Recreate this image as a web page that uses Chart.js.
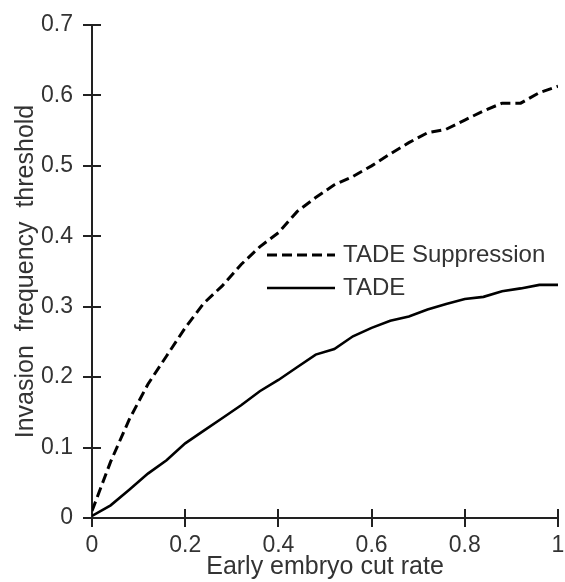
<!DOCTYPE html>
<html>
<head>
<meta charset="utf-8">
<script src="https://cdn.jsdelivr.net/npm/chart.js@4.4.1/dist/chart.umd.min.js"></script>
<style>
  html, body { margin: 0; padding: 0; background: #fff; }
  #wrap { width: 565px; height: 582px; }
</style>
</head>
<body>
<div id="wrap"><canvas id="chart" width="565" height="582"></canvas></div>
<script>
// data
const cutRate = [0, 0.04, 0.08, 0.12, 0.16, 0.2, 0.24, 0.28, 0.32, 0.36, 0.4, 0.44, 0.48,
  0.52, 0.56, 0.6, 0.64, 0.68, 0.72, 0.76, 0.8, 0.84, 0.88, 0.92, 0.96, 1];
const suppression = [0.01, 0.08, 0.14, 0.19, 0.23, 0.27, 0.305, 0.33, 0.36, 0.385, 0.405, 0.435, 0.455,
  0.473, 0.485, 0.5, 0.517, 0.533, 0.547, 0.552, 0.565, 0.578, 0.589, 0.589, 0.604, 0.613];
const tade = [0.003, 0.018, 0.04, 0.063, 0.082, 0.106, 0.124, 0.142, 0.16, 0.18, 0.196, 0.214, 0.232,
  0.24, 0.258, 0.27, 0.28, 0.286, 0.296, 0.304, 0.311, 0.314, 0.322, 0.326, 0.331, 0.331];
const xTickValues = [0, 0.2, 0.4, 0.6, 0.8, 1];
const yTickValues = [0, 0.1, 0.2, 0.3, 0.4, 0.5, 0.6, 0.7];

const FONT = '"Liberation Sans", Arial, sans-serif';
const INK = '#222';

function toPoints(xs, ys) {
  return xs.map((x, i) => ({x: x, y: ys[i]}));
}

// ticks crossing the axis: chart.js draws the outer half, this draws the inner half
const innerTicks = {
  id: 'innerTicks',
  beforeDatasetsDraw(chart) {
    const {ctx, chartArea, scales} = chart;
    ctx.save();
    ctx.strokeStyle = INK;
    ctx.lineWidth = 2;
    scales.x.ticks.forEach(t => {
      const px = Math.round(scales.x.getPixelForValue(t.value));
      ctx.beginPath();
      ctx.moveTo(px, chartArea.bottom);
      ctx.lineTo(px, chartArea.bottom - 9);
      ctx.stroke();
    });
    scales.y.ticks.forEach(t => {
      const py = Math.round(scales.y.getPixelForValue(t.value));
      ctx.beginPath();
      ctx.moveTo(chartArea.left, py);
      ctx.lineTo(chartArea.left + 9, py);
      ctx.stroke();
    });
    ctx.restore();
  }
};

// legend sitting inside the plot
const legendInside = {
  id: 'legendInside',
  afterDatasetsDraw(chart) {
    const {ctx, chartArea} = chart;
    const x0 = chartArea.left + 175;
    const y0 = chartArea.top + 230;
    chart.data.datasets.forEach((ds, i) => {
      const y = y0 + i * 33;
      ctx.save();
      ctx.strokeStyle = ds.borderColor;
      ctx.lineWidth = ds.borderWidth;
      ctx.setLineDash(ds.borderDash || []);
      ctx.beginPath();
      ctx.moveTo(x0, y);
      ctx.lineTo(x0 + 68, y);
      ctx.stroke();
      ctx.setLineDash([]);
      ctx.fillStyle = '#333';
      ctx.font = '24px ' + FONT;
      ctx.textBaseline = 'middle';
      ctx.fillText(ds.label, x0 + 76, y);
      ctx.restore();
    });
  }
};

new Chart(document.getElementById('chart').getContext('2d'), {
  type: 'line',
  data: {
    datasets: [
      {
        label: 'TADE Suppression',
        data: toPoints(cutRate, suppression),
        borderColor: '#000',
        borderWidth: 3,
        borderDash: [10, 5],
        pointRadius: 0,
        tension: 0,
        fill: false
      },
      {
        label: 'TADE',
        data: toPoints(cutRate, tade),
        borderColor: '#000',
        borderWidth: 2.6,
        pointRadius: 0,
        tension: 0,
        fill: false
      }
    ]
  },
  options: {
    responsive: false,
    animation: false,
    devicePixelRatio: 1,
    layout: {padding: {top: 25, right: 0, left: 0, bottom: 0}},
    plugins: {
      legend: {display: false},
      tooltip: {enabled: false}
    },
    scales: {
      x: {
        type: 'linear',
        min: 0,
        max: 1,
        afterBuildTicks: s => { s.ticks = xTickValues.map(v => ({value: v})); },
        afterFit: s => { s.height = 64; s.paddingRight = 7; },
        grid: {drawOnChartArea: false, drawTicks: true, tickLength: 9, color: INK, lineWidth: 2},
        border: {display: true, color: INK, width: 2},
        ticks: {color: '#333', font: {family: FONT, size: 23}, padding: 5, maxRotation: 0,
          callback: v => String(v)},
        title: {display: true, text: 'Early embryo cut rate', color: '#333',
          font: {family: FONT, size: 25}, padding: {top: 0, bottom: 0}}
      },
      y: {
        type: 'linear',
        min: 0,
        max: 0.7,
        afterBuildTicks: s => { s.ticks = yTickValues.map(v => ({value: v})); },
        afterFit: s => { s.width = 92; },
        grid: {drawOnChartArea: false, drawTicks: true, tickLength: 9, color: INK, lineWidth: 2},
        border: {display: true, color: INK, width: 2},
        ticks: {color: '#333', font: {family: FONT, size: 23}, padding: 10,
          callback: v => String(v)},
        title: {display: true, text: 'Invasion  frequency  threshold', color: '#333',
          font: {family: FONT, size: 25}, padding: {top: 11, bottom: 0}}
      }
    }
  },
  plugins: [innerTicks, legendInside]
});
</script>
</body>
</html>
